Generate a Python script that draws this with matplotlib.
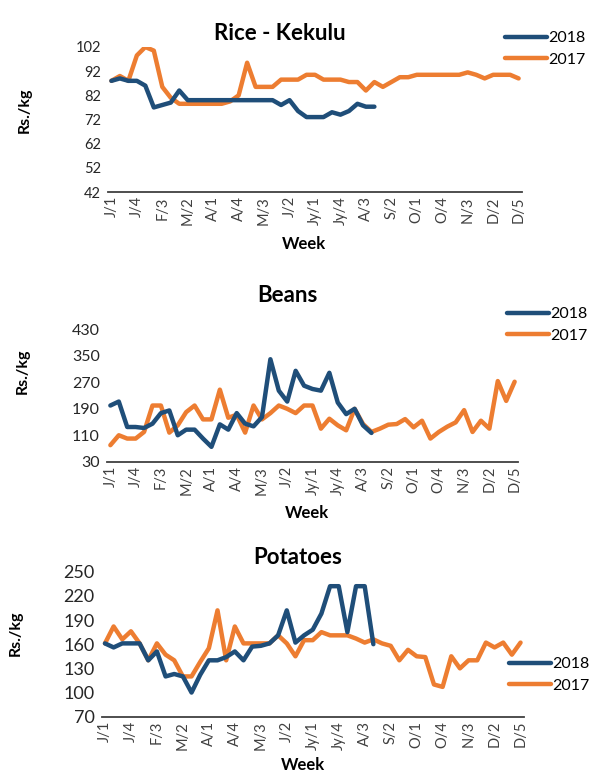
import matplotlib
matplotlib.use("Agg")
import matplotlib.pyplot as plt
import numpy as np

plt.rcParams['font.family'] = ['Lato', 'DejaVu Sans']

BLUE = '#1F4E79'
ORANGE = '#ED7D31'

tick_labels = ['J/1', 'J/4', 'F/3', 'M/2', 'A/1', 'A/4', 'M/3', 'J/2', 'Jy/1',
               'Jy/4', 'A/3', 'S/2', 'O/1', 'O/4', 'N/3', 'D/2', 'D/5']

rice_2018 = [88, 89, 88, 88, 86, 77, 78, 79, 84, 80,
             80, 80, 80, 80, 80, 80, 80, 80, 80, 80,
             78, 80, 75.5, 73, 73, 73, 75, 74, 75.5, 78.5,
             77.3, 77.3]
rice_2017 = [88, 90, 88, 98.5, 102, 100.5, 85.5, 81, 78.5, 78.5,
             78.5, 78.5, 78.5, 78.5, 79.5, 82, 95.5, 85.5, 85.5, 85.5,
             88.5, 88.5, 88.5, 90.5, 90.5, 88.5, 88.5, 88.5, 87.5, 87.5,
             84, 87.5, 85.5, 87.5, 89.5, 89.5, 90.5, 90.5, 90.5, 90.5,
             90.5, 90.5, 91.5, 90.5, 89, 90.5, 90.5, 90.5, 89]

beans_2018 = [200, 212, 135, 135, 132, 145, 177, 185, 110, 127,
              127, 100, 75, 143, 127, 177, 145, 137, 165, 340,
              245, 212, 305, 260, 250, 245, 299, 209, 174, 190,
              140, 117]
beans_2017 = [80, 110, 100, 100, 120, 200, 200, 118, 140, 180,
              200, 158, 158, 248, 163, 172, 118, 200, 158, 177,
              200, 190, 177, 200, 200, 130, 160, 140, 125, 190,
              144, 120, 130, 142, 144, 159, 134, 154, 100, 120,
              136, 149, 186, 120, 154, 130, 274, 214, 272]

potato_2018 = [161, 156, 161, 161, 161, 140, 151, 120, 123, 120,
               100, 122, 140, 140, 144, 151, 140, 157, 158, 161,
               171, 202, 162, 171, 178, 198, 232, 232, 175, 232,
               232, 160]
potato_2017 = [161, 182, 166, 176, 161, 140, 161, 147, 140, 120,
               120, 138, 155, 202, 140, 182, 161, 161, 161, 161,
               171, 161, 145, 165, 165, 175, 171, 171, 171, 167,
               162, 166, 161, 158, 140, 153, 145, 144, 110, 107,
               145, 130, 140, 140, 162, 156, 162, 147, 162]

W, H = 591, 775
fig = plt.figure(figsize=(W / 100, H / 100), dpi=100)


def px_axes(left, right, top, bottom):
    return fig.add_axes([left / W, 1 - bottom / H, (right - left) / W, (bottom - top) / H])


def panel(box, title, title_xy, s18, s17, yticks, tick_fs, ylabel_xy, week_xy, legend_xy):
    ax = px_axes(*box)
    ax.plot(np.arange(len(s18)), s18, color=BLUE, lw=3.2, solid_capstyle='round', label='2018', zorder=3)
    ax.plot(np.arange(len(s17)), s17, color=ORANGE, lw=3.2, solid_capstyle='round', label='2017', zorder=2)
    ax.set_xlim(-0.4, 48.4)
    ax.set_ylim(yticks[0], yticks[-1])
    ax.set_yticks(yticks)
    ax.set_yticklabels([str(v) for v in yticks], fontsize=tick_fs, color='#262626')
    ax.set_xticks(np.arange(0, 49, 3))
    ax.set_xticklabels(tick_labels, rotation=90, fontsize=10.5, color='#404040')
    ax.tick_params(axis='y', length=0, pad=5)
    ax.tick_params(axis='x', length=0, pad=3)
    for s in ['top', 'right', 'left']:
        ax.spines[s].set_visible(False)
    ax.spines['bottom'].set_color('#404040')
    ax.spines['bottom'].set_linewidth(1.3)
    ax.spines['bottom'].set_zorder(1)

    fig.text(title_xy[0] / W, 1 - title_xy[1] / H, title, ha='center', va='center',
             fontsize=16, fontweight='bold', color='black')
    fig.text(ylabel_xy[0] / W, 1 - ylabel_xy[1] / H, 'Rs./kg', ha='center', va='center',
             rotation=90, fontsize=11.5, fontweight='bold', color='black')
    fig.text(week_xy[0] / W, 1 - week_xy[1] / H, 'Week', ha='center', va='center',
             fontsize=12, fontweight='bold', color='black')
    fig.legend(handles=ax.get_lines(), loc='center left',
               bbox_to_anchor=(legend_xy[0] / W, 1 - legend_xy[1] / H),
               frameon=False, fontsize=11.5, handlelength=2.6, handletextpad=0.1,
               labelspacing=0.45, borderpad=0, borderaxespad=0)
    return ax


panel((108, 522, 47, 192), 'Rice - Kekulu', (280, 33), rice_2018, rice_2017,
      [42, 52, 62, 72, 82, 92, 102], 10.5, (25, 110), (304, 244), (505, 49))
panel((107, 518, 329.5, 461.7), 'Beans', (287, 295), beans_2018, beans_2017,
      [30, 110, 190, 270, 350, 430], 11.5, (23, 371), (307, 513), (507, 325))
panel((101.5, 524, 571.7, 716.7), 'Potatoes', (298, 557), potato_2018, potato_2017,
      [70, 100, 130, 160, 190, 220, 250], 13, (16, 633), (303, 765), (509, 675))

fig.savefig('out.png', dpi=100)
